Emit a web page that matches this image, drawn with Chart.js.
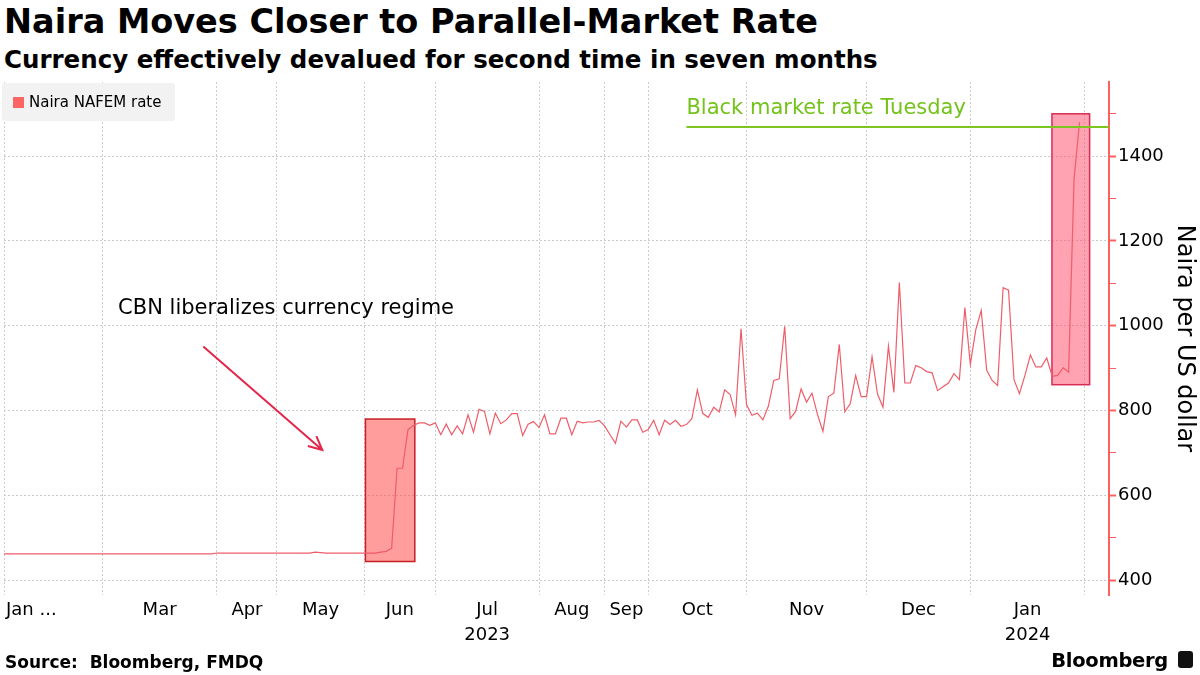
<!DOCTYPE html>
<html lang="en">
<head>
<meta charset="UTF-8">
<title>Naira Moves Closer to Parallel-Market Rate</title>
<script src="https://cdn.jsdelivr.net/npm/chart.js@4"></script>
<style>
    body { margin: 0; width: 1200px; height: 675px; position: relative; background: #fff; overflow: hidden; font-family: "DejaVu Sans", sans-serif; color: #000; }
    #chart { position: absolute; left: 0; top: 0; }
    .title { position: absolute; left: 4px; top: 2px; font-weight: bold; font-size: 33.5px; line-height: 40px; white-space: nowrap; }
    .subtitle { position: absolute; left: 4px; top: 45px; font-weight: bold; font-size: 24.5px; line-height: 30px; white-space: nowrap; }
    .legend { position: absolute; left: 2px; top: 83px; width: 173px; height: 38px; background: #f2f2f2; border-radius: 3px; font-size: 15px; line-height: 38px; }
    .legend .swatch { position: absolute; left: 11px; top: 14px; width: 11px; height: 11px; background: #fd6464; }
    .legend span { position: absolute; left: 27px; top: 0; }
    .source { position: absolute; left: 5px; top: 651px; font-weight: bold; font-size: 17px; line-height: 22px; white-space: pre; }
    .brand { position: absolute; right: 32px; top: 648px; font-weight: bold; font-size: 19.5px; line-height: 26px; letter-spacing: -0.3px; }
    .brand-icon { position: absolute; left: 1178px; top: 651px; width: 15px; height: 17px; background: #111; border-radius: 3px; }
</style>
</head>
<body>
    <div class="title">Naira Moves Closer to Parallel-Market Rate</div>
    <div class="subtitle">Currency effectively devalued for second time in seven months</div>
    <canvas id="chart" width="1200" height="675"></canvas>
    <div class="legend"><div class="swatch"></div><span>Naira NAFEM rate</span></div>
    <div class="source">Source:  Bloomberg, FMDQ</div>
    <div class="brand">Bloomberg</div>
    <div class="brand-icon"></div>
<script>
// x is the trading-day index (Jan 2023 .. Jan 2024), gaps in the data squeeze some months
const monthLabels = ['Jan ...', 'Mar', 'Apr', 'May', 'Jun', ['Jul', '2023'], 'Aug', 'Sep', 'Oct', 'Nov', 'Dec', ['Jan', '2024']];
// index of the first reading in each month (last one = start of Feb 2024)
const monthStarts = [0, 18, 39, 50, 66, 79, 98, 110, 118, 136, 158, 177, 198];
const yTicks = [400, 500, 600, 700, 800, 900, 1000, 1100, 1200, 1300, 1400, 1500];

const nafemRate = [
    462, 462, 462, 462, 462, 462, 462, 462, 462, 462, 462, 462, 462, 462, 462, 462, 462, 462, 462, 462,
    462, 462, 462, 462, 462, 462, 462, 462, 462, 462, 462, 462, 462, 462, 462, 462, 462, 462, 462,
    464, 464, 464, 464, 464, 464, 464, 464, 464, 464, 464, 464, 464, 464, 464, 464, 464, 464,
    466, 465,
    464, 464, 464, 464, 464, 464, 464, 464, 464, 464,
    466, 468,
    475, 664, 664, 755, 765, 771, 771, 765, 771, 743, 768, 743, 764, 745, 790, 749, 803, 798, 745, 794,
    769, 778, 793, 793, 741, 768, 774, 760, 790, 745,
    745, 782, 782, 743, 775, 771, 773, 773, 777, 764, 743, 723, 775, 761, 778, 778, 749, 755, 777, 743,
    777, 767, 777, 763, 767, 781, 849, 793, 784, 808, 797, 849, 838, 790, 993, 814,
    789, 794, 778, 810, 871, 875, 999, 781, 798, 851, 820, 841, 791, 751, 833, 841, 956, 797, 816, 883,
    833, 833, 927, 839, 808, 952, 843, 1102, 865, 865, 906, 901, 892, 889, 847, 856,
    865, 887, 873, 1043, 909, 991, 1036, 895, 871, 859, 1090, 1084, 873, 840, 883, 931, 903, 903, 924, 881,
    883, 901, 891, 1346, 1480
];
const blackMarketRate = 1469;

// annotation anchors, in data units (trading-day index, naira)
const highlights = [
    { from: 66.2, to: 75.25, low: 444, high: 780, fill: 'rgba(255,60,60,0.5)', stroke: '#c81e26' },
    { from: 191.95, to: 198.85, low: 861, high: 1500, fill: 'rgba(255,70,100,0.5)', stroke: '#d82c55' }
];
const notes = {
    cbnText: { x: 20.9, y: 1041, text: 'CBN liberalizes currency regime' },
    cbnArrow: { x1: 36.5, y1: 951, x2: 58.3, y2: 707 },
    blackMarket: { from: 125, text: 'Black market rate Tuesday' }
};

const annotate = {
    id: 'annotate',
    beforeDatasetsDraw(chart) {
        const { ctx, scales: { x, y } } = chart;
        ctx.save();
        highlights.forEach(h => {
            const left = x.getPixelForValue(h.from), right = x.getPixelForValue(h.to);
            const top = y.getPixelForValue(h.high), bottom = y.getPixelForValue(h.low);
            ctx.fillStyle = h.fill;
            ctx.fillRect(left, top, right - left, bottom - top);
            ctx.strokeStyle = h.stroke;
            ctx.lineWidth = 1.5;
            ctx.strokeRect(left, top, right - left, bottom - top);
        });
        ctx.restore();
    },
    afterDatasetsDraw(chart) {
        const { ctx, chartArea, scales: { x, y } } = chart;
        ctx.save();
        // black market level
        const by = y.getPixelForValue(blackMarketRate);
        ctx.strokeStyle = '#7cc61f';
        ctx.lineWidth = 2;
        ctx.beginPath();
        ctx.moveTo(x.getPixelForValue(notes.blackMarket.from), by);
        ctx.lineTo(chartArea.right, by);
        ctx.stroke();
        ctx.fillStyle = '#74c21a';
        ctx.font = '21px "DejaVu Sans"';
        ctx.textBaseline = 'alphabetic';
        ctx.fillText(notes.blackMarket.text, x.getPixelForValue(notes.blackMarket.from), by - 13);

        // CBN note + arrow
        ctx.fillStyle = '#000';
        ctx.textBaseline = 'middle';
        ctx.fillText(notes.cbnText.text, x.getPixelForValue(notes.cbnText.x), y.getPixelForValue(notes.cbnText.y));
        const a = notes.cbnArrow;
        const x1 = x.getPixelForValue(a.x1), y1 = y.getPixelForValue(a.y1);
        const x2 = x.getPixelForValue(a.x2), y2 = y.getPixelForValue(a.y2);
        const ang = Math.atan2(y2 - y1, x2 - x1);
        ctx.strokeStyle = '#e4264a';
        ctx.lineWidth = 2;
        ctx.beginPath();
        ctx.moveTo(x1, y1);
        ctx.lineTo(x2, y2);
        ctx.moveTo(x2 - 15 * Math.cos(ang - 0.45), y2 - 15 * Math.sin(ang - 0.45));
        ctx.lineTo(x2, y2);
        ctx.lineTo(x2 - 15 * Math.cos(ang + 0.45), y2 - 15 * Math.sin(ang + 0.45));
        ctx.stroke();
        ctx.restore();
    }
};

Chart.defaults.font.family = '"DejaVu Sans", sans-serif';
Chart.defaults.color = '#000';

new Chart(document.getElementById('chart'), {
    type: 'line',
    data: {
        datasets: [{
            label: 'Naira NAFEM rate',
            data: nafemRate.map((v, i) => ({ x: i, y: v })),
            borderColor: '#ef5d69',
            borderWidth: 1.2,
            pointRadius: 0,
            tension: 0
        }]
    },
    options: {
        responsive: false,
        animation: false,
        layout: { padding: { top: 82, left: 4, right: 0, bottom: 0 } },
        plugins: { legend: { display: false }, tooltip: { enabled: false } },
        scales: {
            x: {
                type: 'linear',
                min: 0,
                max: 202.4,
                afterBuildTicks: s => { s.ticks = monthStarts.map(v => ({ value: v })); },
                afterFit: s => { s.height = 0; },
                ticks: { display: false },
                grid: { color: '#cccccc', drawTicks: false },
                border: { display: false, dash: [2, 2] }
            },
            xl: {
                type: 'linear',
                position: 'bottom',
                min: 0,
                max: 202.4,
                afterBuildTicks: s => {
                    s.ticks = monthLabels.map((_, i) => ({ value: (monthStarts[i] + monthStarts[i + 1]) / 2 }));
                    s.ticks[0].value = monthStarts[0] + 5; // truncated first label sits at the left edge
                },
                afterFit: s => { s.height = 80; },
                ticks: {
                    maxRotation: 0,
                    autoSkip: false,
                    padding: 3,
                    font: { size: 18, lineHeight: 1.4 },
                    callback: (v, i) => monthLabels[i]
                },
                grid: { display: false, drawTicks: false },
                border: { display: false }
            },
            y: {
                position: 'right',
                min: 365,
                max: 1575,
                afterBuildTicks: s => { s.ticks = yTicks.map(v => ({ value: v })); },
                afterFit: s => { s.width = 91; },
                ticks: {
                    padding: 2,
                    font: { size: 18 },
                    callback: v => (v % 200 === 0 ? String(v) : '')
                },
                grid: {
                    color: c => (c.tick && c.tick.value % 200 === 0 ? '#cccccc' : 'rgba(0,0,0,0)'),
                    tickColor: '#ff6060',
                    tickLength: 7,
                    tickWidth: c => (c.tick && c.tick.value % 200 === 0 ? 2 : 1)
                },
                border: { color: '#ff6060', width: 2, dash: [2, 2] },
                title: {
                    display: true,
                    text: 'Naira per US dollar',
                    font: { size: 24 },
                    padding: { top: 1, bottom: 0 }
                }
            }
        }
    },
    plugins: [annotate]
});
</script>
</body>
</html>
